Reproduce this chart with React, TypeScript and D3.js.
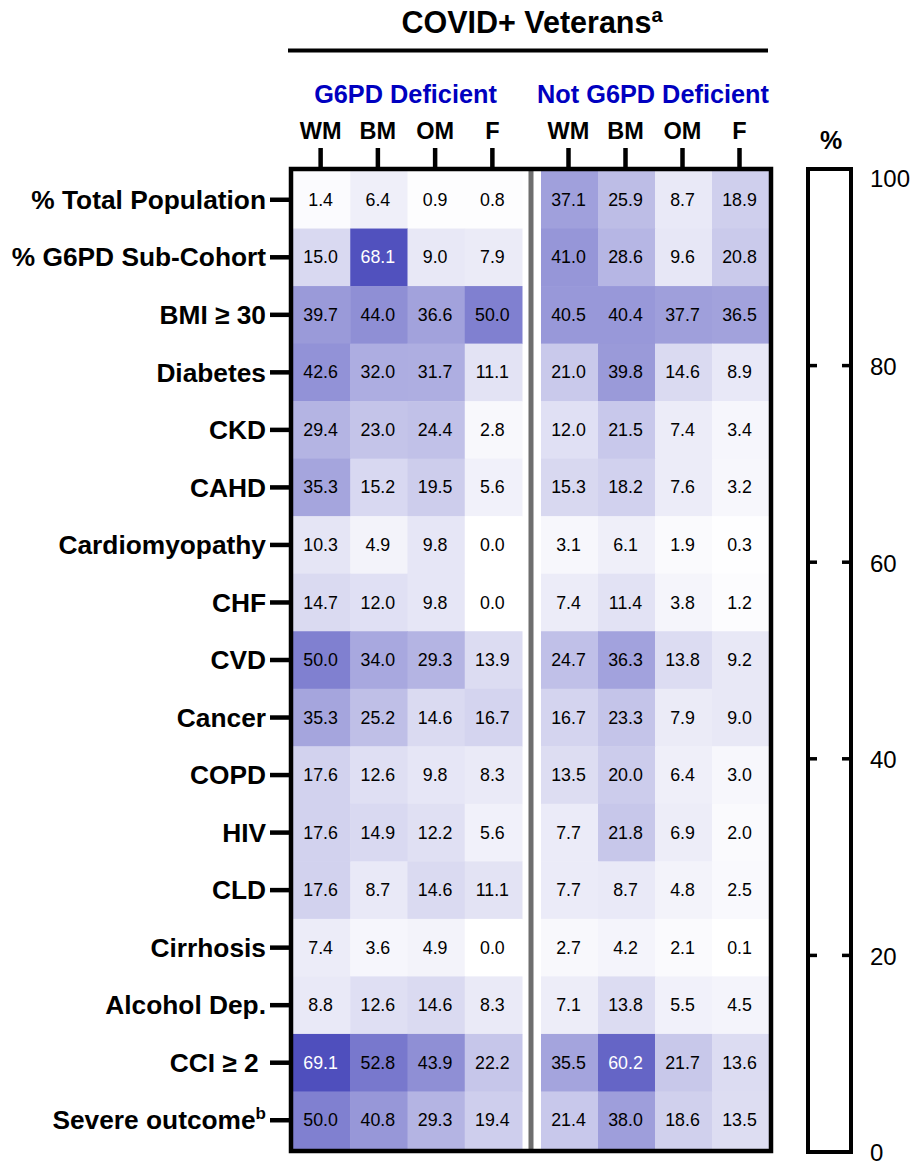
import React, { useEffect, useRef } from 'react'
import * as d3 from 'd3'

// row labels (top to bottom)
const rows = [
  '% Total Population', '% G6PD Sub-Cohort', 'BMI ≥ 30', 'Diabetes', 'CKD', 'CAHD',
  'Cardiomyopathy', 'CHF', 'CVD', 'Cancer', 'COPD', 'HIV', 'CLD', 'Cirrhosis',
  'Alcohol Dep.', 'CCI ≥ 2\u00a0', 'Severe outcome'
]
const rowNotes = ['', '', '', '', '', '', '', '', '', '', '', '', '', '', '', '', 'b']

const subgroups = ['WM', 'BM', 'OM', 'F']
const groups = ['G6PD Deficient', 'Not G6PD Deficient']

// values per row: WM, BM, OM, F
const deficient = [
  [1.4, 6.4, 0.9, 0.8],
  [15.0, 68.1, 9.0, 7.9],
  [39.7, 44.0, 36.6, 50.0],
  [42.6, 32.0, 31.7, 11.1],
  [29.4, 23.0, 24.4, 2.8],
  [35.3, 15.2, 19.5, 5.6],
  [10.3, 4.9, 9.8, 0.0],
  [14.7, 12.0, 9.8, 0.0],
  [50.0, 34.0, 29.3, 13.9],
  [35.3, 25.2, 14.6, 16.7],
  [17.6, 12.6, 9.8, 8.3],
  [17.6, 14.9, 12.2, 5.6],
  [17.6, 8.7, 14.6, 11.1],
  [7.4, 3.6, 4.9, 0.0],
  [8.8, 12.6, 14.6, 8.3],
  [69.1, 52.8, 43.9, 22.2],
  [50.0, 40.8, 29.3, 19.4]
]

const notDeficient = [
  [37.1, 25.9, 8.7, 18.9],
  [41.0, 28.6, 9.6, 20.8],
  [40.5, 40.4, 37.7, 36.5],
  [21.0, 39.8, 14.6, 8.9],
  [12.0, 21.5, 7.4, 3.4],
  [15.3, 18.2, 7.6, 3.2],
  [3.1, 6.1, 1.9, 0.3],
  [7.4, 11.4, 3.8, 1.2],
  [24.7, 36.3, 13.8, 9.2],
  [16.7, 23.3, 7.9, 9.0],
  [13.5, 20.0, 6.4, 3.0],
  [7.7, 21.8, 6.9, 2.0],
  [7.7, 8.7, 4.8, 2.5],
  [2.7, 4.2, 2.1, 0.1],
  [7.1, 13.8, 5.5, 4.5],
  [35.5, 60.2, 21.7, 13.6],
  [21.4, 38.0, 18.6, 13.5]
]

const legendTicks = [0, 20, 40, 60, 80, 100]

const W = 913
const H = 1167
const font = '"Liberation Sans", Arial, Helvetica, sans-serif'

const top = 169
const bottom = 1151
const frameLeft = 291
const frameRight = 771

export default function App() {
  const ref = useRef<SVGSVGElement>(null)

  useEffect(() => {
    const svg = d3.select(ref.current)
    svg.selectAll('*').remove()

    const y = d3.scaleBand().domain(rows).range([top + 2, bottom - 2])
    const xs = [
      d3.scaleBand().domain(subgroups).range([frameLeft + 2, 522]),
      d3.scaleBand().domain(subgroups).range([541, frameRight - 2])
    ]
    const color = d3.scaleLinear<string>().domain([0, 100]).range(['#ffffff', '#0000a0'])
    const tables = [deficient, notDeficient]

    // title
    const title = svg.append('text')
      .attr('x', 532).attr('y', 33)
      .attr('text-anchor', 'middle')
      .attr('font-family', font).attr('font-weight', 'bold').attr('font-size', 30.5)
    title.append('tspan').text('COVID+ Veterans')
    title.append('tspan').attr('font-size', 20).attr('dy', -11).text('a')

    svg.append('line')
      .attr('x1', 288).attr('x2', 768).attr('y1', 50.5).attr('y2', 50.5)
      .attr('stroke', '#000').attr('stroke-width', 4)

    // cells
    tables.forEach((table, gi) => {
      const x = xs[gi]
      const cells = svg.append('g')
      table.forEach((vals, ri) => {
        vals.forEach((v, ci) => {
          cells.append('rect')
            .attr('x', x(subgroups[ci])!)
            .attr('y', y(rows[ri])!)
            .attr('width', x.bandwidth() + 0.5)
            .attr('height', y.bandwidth() + 0.5)
            .attr('fill', color(v))
          cells.append('text')
            .attr('x', x(subgroups[ci])! + x.bandwidth() / 2 - 1)
            .attr('y', y(rows[ri])! + y.bandwidth() / 2)
            .attr('dy', '0.34em')
            .attr('text-anchor', 'middle')
            .attr('font-family', font).attr('font-size', 17.8)
            .attr('fill', v > 55 ? '#ffffff' : '#000000')
            .text(v.toFixed(1))
        })
      })

      // group label
      const [r0, r1] = x.range()
      svg.append('text')
        .attr('x', (r0 + r1) / 2 - 2).attr('y', 103)
        .attr('text-anchor', 'middle')
        .attr('font-family', font).attr('font-weight', 'bold').attr('font-size', 25.3)
        .attr('fill', '#0000c0')
        .text(groups[gi])

      // column ticks and labels
      subgroups.forEach(s => {
        const cx = x(s)! + x.bandwidth() / 2 - 1
        svg.append('line')
          .attr('x1', cx).attr('x2', cx).attr('y1', 148).attr('y2', top)
          .attr('stroke', '#000').attr('stroke-width', 4.5)
        svg.append('text')
          .attr('x', cx).attr('y', 139)
          .attr('text-anchor', 'middle')
          .attr('font-family', font).attr('font-weight', 'bold').attr('font-size', 23.5)
          .text(s)
      })
    })

    // separator between groups
    svg.append('line')
      .attr('x1', 531).attr('x2', 531).attr('y1', top).attr('y2', bottom + 2)
      .attr('stroke', '#6e6e6e').attr('stroke-width', 5)

    // frame
    svg.append('rect')
      .attr('x', frameLeft).attr('y', top)
      .attr('width', frameRight - frameLeft).attr('height', bottom - top)
      .attr('fill', 'none').attr('stroke', '#000').attr('stroke-width', 4.5)

    // row ticks and labels
    rows.forEach((r, i) => {
      const cy = y(r)! + y.bandwidth() / 2
      svg.append('line')
        .attr('x1', 270).attr('x2', frameLeft).attr('y1', cy).attr('y2', cy)
        .attr('stroke', '#000').attr('stroke-width', 4.5)
      const t = svg.append('text')
        .attr('x', 266).attr('y', cy)
        .attr('dy', '0.35em')
        .attr('text-anchor', 'end')
        .attr('font-family', font).attr('font-weight', 'bold').attr('font-size', 26.3)
      t.append('tspan').text(r)
      if (rowNotes[i]) {
        t.append('tspan').attr('font-size', 17).attr('dy', -10).text(rowNotes[i])
      }
    })

    // colour legend
    const cLeft = 808
    const cRight = 851
    const cy = d3.scaleLinear().domain([0, 100]).range([bottom + 1, top])

    svg.append('rect')
      .attr('x', cLeft).attr('y', top)
      .attr('width', cRight - cLeft).attr('height', bottom + 1 - top)
      .attr('fill', color(0)).attr('stroke', '#000').attr('stroke-width', 4)

    legendTicks.forEach(v => {
      const ty = cy(v)
      if (v > 0 && v < 100) {
        svg.append('line')
          .attr('x1', cLeft).attr('x2', cLeft + 9).attr('y1', ty).attr('y2', ty)
          .attr('stroke', '#000').attr('stroke-width', 3.5)
        svg.append('line')
          .attr('x1', cRight - 9).attr('x2', cRight).attr('y1', ty).attr('y2', ty)
          .attr('stroke', '#000').attr('stroke-width', 3.5)
      }
      svg.append('text')
        .attr('x', 870).attr('y', Math.max(ty, top + 9) + 1)
        .attr('dy', '0.35em')
        .attr('font-family', font).attr('font-size', 24)
        .text(v)
    })

    svg.append('text')
      .attr('x', 831).attr('y', 149)
      .attr('text-anchor', 'middle')
      .attr('font-family', font).attr('font-weight', 'bold').attr('font-size', 25)
      .text('%')
  }, [])

  return (
    <svg
      ref={ref}
      width={W}
      height={H}
      style={{ position: 'absolute', left: 0, top: 0, background: '#fff' }}
    />
  )
}
